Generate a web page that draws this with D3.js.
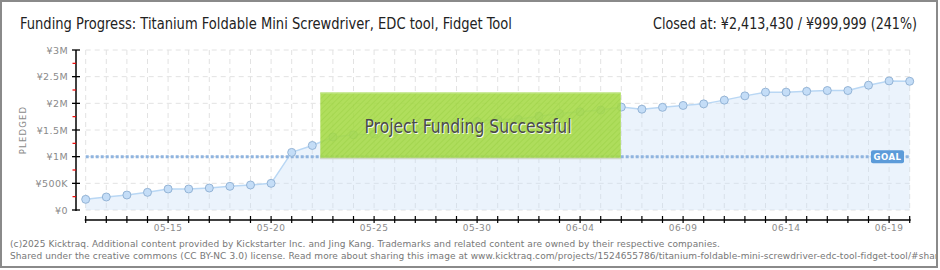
<!DOCTYPE html>
<html><head><meta charset="utf-8">
<script src="https://cdn.jsdelivr.net/npm/d3@7"></script>
<style>
html,body{margin:0;padding:0;background:#fff;}
svg{display:block;}
</style></head>
<body>
<svg id="chart" width="940" height="270"></svg>
<script>
const dates = ["05-11","05-12","05-13","05-14","05-15","05-16","05-17","05-18","05-19","05-20",
"05-21","05-22","05-23","05-24","05-25","05-26","05-27","05-28","05-29","05-30",
"05-31","06-01","06-02","06-03","06-04","06-05","06-06","06-07","06-08","06-09",
"06-10","06-11","06-12","06-13","06-14","06-15","06-16","06-17","06-18","06-19","06-20"];
const pledged = [200000,244000,281000,331000,394000,394000,412000,444000,469000,500000,
1080000,1210000,1370000,1410000,1425000,1470000,1520000,1570000,1620000,1660000,
1700000,1700000,1760000,1810000,1840000,1875000,1930000,1890000,1925000,1960000,
1990000,2060000,2140000,2210000,2210000,2225000,2240000,2240000,2340000,2420000,2413430];
const goal = 999999;
const yTicks = [0,500000,1000000,1500000,2000000,2500000,3000000];
const yTickLabels = ["¥0","¥500K","¥1M","¥1.5M","¥2M","¥2.5M","¥3M"];
const yMinor = [250000,750000,1250000,1750000,2250000,2750000];
const xLabelDates = ["05-15","05-20","05-25","05-30","06-04","06-09","06-14","06-19"];
const titleText = "Funding Progress: Titanium Foldable Mini Screwdriver, EDC tool, Fidget Tool";
const closedText = "Closed at:  ¥2,413,430 /  ¥999,999 (241%)";
const footer1 = "(c)2025 Kicktraq. Additional content provided by Kickstarter Inc. and Jing Kang. Trademarks and related content are owned by their respective companies.";
const footer2 = "Shared under the creative commons (CC BY-NC 3.0) license. Read more about sharing this image at www.kicktraq.com/projects/1524655786/titanium-foldable-mini-screwdriver-edc-tool-fidget-tool/#sharing";

const parse = d3.timeParse("%Y-%m-%d");
const toDate = s => parse("2025-" + s);
const allDays = d3.timeDay.range(toDate("05-11"), d3.timeDay.offset(toDate("06-20"), 1));

const svg = d3.select("#chart");
const condensed = "'DejaVu Sans Condensed','DejaVu Sans',sans-serif";

// frame
svg.append("rect").attr("x",1).attr("y",1).attr("width",936).attr("height",266)
  .attr("fill","#fff").attr("stroke","#8a8a8a").attr("stroke-width",2);

const x = d3.scaleTime().domain([toDate("05-11"), toDate("06-20")]).range([85.7, 909.7]);
const y = d3.scaleLinear().domain([0, 3000000]).range([210, 50]);

// defs pattern
const defs = svg.append("defs");
const pat = defs.append("pattern").attr("id","hatch").attr("patternUnits","userSpaceOnUse")
  .attr("width",4).attr("height",4).attr("patternTransform","rotate(45)");
pat.append("rect").attr("width",4).attr("height",4).attr("fill","rgba(165,218,70,0.88)");
pat.append("line").attr("x1",0).attr("y1",0).attr("x2",0).attr("y2",4)
  .attr("stroke","rgba(150,205,60,0.5)").attr("stroke-width",1.5);

// grid
const g = svg.append("g");
g.selectAll("line.vg").data(allDays).join("line")
  .attr("x1",d=>x(d)).attr("x2",d=>x(d)).attr("y1",y(3000000)).attr("y2",y(0))
  .attr("stroke","#e2e2e2").attr("stroke-dasharray","5,4");
g.selectAll("line.hg").data(yTicks).join("line")
  .attr("x1",x(toDate("05-11"))).attr("x2",x(toDate("06-20"))).attr("y1",d=>y(d)).attr("y2",d=>y(d))
  .attr("stroke","#e2e2e2").attr("stroke-dasharray","5,4");

// area + line
const pts = dates.map((d,i)=>({date:toDate(d), v:pledged[i]}));
g.append("path").datum(pts)
  .attr("d", d3.area().x(d=>x(d.date)).y0(y(0)).y1(d=>y(d.v)))
  .attr("fill","rgba(206,226,248,0.4)");
g.append("path").datum(pts)
  .attr("d", d3.line().x(d=>x(d.date)).y(d=>y(d.v)))
  .attr("fill","none").attr("stroke","#b9d7f4").attr("stroke-width",1.5);

// goal line
g.append("line").attr("x1",x(toDate("05-11"))).attr("x2",x(toDate("06-20")))
  .attr("y1",y(goal)).attr("y2",y(goal))
  .attr("stroke","#8fb4df").attr("stroke-width",3).attr("stroke-dasharray","3,2");

// points
g.selectAll("circle.pt").data(pts).join("circle")
  .attr("cx",d=>x(d.date)).attr("cy",d=>y(d.v)).attr("r",4)
  .attr("fill","#c4ddf7").attr("stroke","#94b4d6").attr("stroke-width",1);

// goal label
const gl = svg.append("g");
gl.append("rect").attr("x",x(toDate("06-18"))+2.5).attr("y",y(goal)-6.5).attr("width",33).attr("height",13)
  .attr("rx",2).attr("fill","#5c9bd9");
gl.append("text").attr("x",x(toDate("06-18"))+19).attr("y",y(goal)+3.5).attr("text-anchor","middle")
  .attr("font-family","'DejaVu Sans',sans-serif").attr("font-size",8.5).attr("font-weight","bold")
  .attr("letter-spacing",0.5).attr("fill","#fff").text("GOAL");

// success box
const bx = x(toDate("05-22")) + 8, bx2 = x(toDate("06-06")) - 0.5;
const by = 92.5, by2 = 158.5;
svg.append("rect").attr("x",bx).attr("y",by).attr("width",bx2-bx).attr("height",by2-by)
  .attr("fill","url(#hatch)");
svg.append("line").attr("x1",bx).attr("x2",bx2).attr("y1",by+0.5).attr("y2",by+0.5)
  .attr("stroke","#c3e78f").attr("stroke-width",1);
svg.append("line").attr("x1",bx).attr("x2",bx2).attr("y1",by2).attr("y2",by2)
  .attr("stroke","#cfd8c4").attr("stroke-width",1.5);
const cx = (bx+bx2)/2 - 3;
[[1,1,"#fff",0.9],[0,0,"#4a4a4a",1]].forEach(([dx,dy,c,o])=>{
  svg.append("text").attr("x",cx-103+dx).attr("y",133+dy)
    .attr("font-family",condensed).attr("font-size",19).attr("fill",c).attr("opacity",o)
    .attr("textLength",207).attr("lengthAdjust","spacingAndGlyphs")
    .text("Project Funding Successful");
});

// y axis
const ya = svg.append("g");
ya.append("line").attr("x1",76).attr("x2",76).attr("y1",y(3000000)).attr("y2",y(0)+1)
  .attr("stroke","#000").attr("stroke-width",1.5);
ya.selectAll("line.mj").data(yTicks).join("line")
  .attr("x1",72).attr("x2",80).attr("y1",d=>y(d)).attr("y2",d=>y(d))
  .attr("stroke","#000").attr("stroke-width",1.3);
ya.selectAll("line.mn").data(yMinor).join("line")
  .attr("x1",72.5).attr("x2",76).attr("y1",d=>y(d)).attr("y2",d=>y(d))
  .attr("stroke","#e00").attr("stroke-width",1.2);
ya.selectAll("text").data(yTicks).join("text")
  .attr("x",68).attr("y",d=>y(d)+3.5).attr("text-anchor","end")
  .attr("font-family","'DejaVu Sans',sans-serif").attr("font-size",9.5).attr("letter-spacing",0.4)
  .attr("fill","#8a8a8a").text((d,i)=>yTickLabels[i]);
svg.append("text").attr("transform","translate(26,130) rotate(-90)").attr("text-anchor","middle")
  .attr("font-family","'DejaVu Sans',sans-serif").attr("font-size",8.5).attr("letter-spacing",1.2)
  .attr("fill","#8a8a8a").text("PLEDGED");

// x axis
const xa = svg.append("g");
xa.append("line").attr("x1",x(toDate("05-11"))-1).attr("x2",x(toDate("06-20"))+1).attr("y1",220).attr("y2",220)
  .attr("stroke","#000").attr("stroke-width",1.5);
xa.selectAll("line.t").data(allDays).join("line")
  .attr("x1",d=>x(d)).attr("x2",d=>x(d)).attr("y1",216).attr("y2",223)
  .attr("stroke","#000").attr("stroke-width",1.2);
xa.selectAll("text").data(xLabelDates).join("text")
  .attr("x",d=>x(toDate(d))).attr("y",231).attr("text-anchor","middle")
  .attr("font-family","'DejaVu Sans',sans-serif").attr("font-size",9).attr("letter-spacing",0.5)
  .attr("fill","#8a8a8a").text(d=>d);

// title
svg.append("text").attr("x",20).attr("y",29).attr("font-family",condensed).attr("font-size",15)
  .attr("fill","#222").attr("textLength",492).attr("lengthAdjust","spacingAndGlyphs").text(titleText);
svg.append("text").attr("x",653).attr("y",29).attr("font-family",condensed).attr("font-size",15)
  .attr("fill","#222").attr("textLength",264).attr("lengthAdjust","spacingAndGlyphs").text(closedText);

// footer
svg.append("clipPath").attr("id","fclip").append("rect").attr("x",0).attr("y",230).attr("width",936).attr("height",40);
const ft = svg.append("g").attr("clip-path","url(#fclip)");
const f1 = ft.append("text").attr("x",10).attr("y",247).attr("font-family","'DejaVu Sans',sans-serif")
  .attr("font-size",9).attr("fill","#777").text(footer1);
const f2 = ft.append("text").attr("x",10).attr("y",259).attr("font-family","'DejaVu Sans',sans-serif")
  .attr("font-size",9).attr("fill","#777").text(footer2);
const w1 = f1.node().getComputedTextLength();
const ls = (710 - w1) / footer1.length;
f1.attr("letter-spacing", ls);
f2.attr("letter-spacing", ls);
</script>
</body></html>
